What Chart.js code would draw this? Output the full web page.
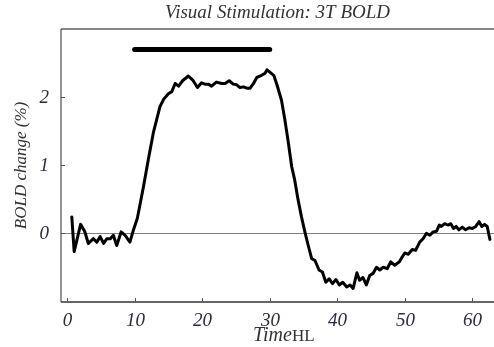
<!DOCTYPE html>
<html>
<head>
<meta charset="utf-8">
<script src="https://cdn.jsdelivr.net/npm/chart.js@4"></script>
<style>
  html, body { margin: 0; padding: 0; background: #fff; }
  #wrap { width: 494px; height: 347px; }
</style>
</head>
<body>
<div id="wrap"><canvas id="boldChart" width="494" height="347"></canvas></div>
<script>
// time (s) and BOLD signal change (%)
const times = [0.7, 1.05, 2.0, 2.6, 3.15, 3.9, 4.4, 4.9, 5.4, 5.9, 6.4, 6.85, 7.35, 8.0, 8.6, 9.3, 9.8,
  10.4, 11.3, 12.0, 12.8, 13.75, 14.3, 15.0, 15.5, 16.0, 16.5, 17.1, 17.95, 18.6, 19.3, 19.9,
  20.4, 20.9, 21.4, 22.1, 22.9, 23.4, 24.0, 24.6, 25.1, 25.6, 26.1, 26.6, 27.1, 27.6, 28.1, 28.8, 29.3, 29.6,
  30.1, 30.6, 31.1, 31.75, 32.25, 32.7, 33.25, 33.7, 34.2, 34.7, 35.2, 35.7, 36.2, 36.7, 37.3, 37.8, 38.3, 38.8, 39.3, 39.8,
  40.3, 40.8, 41.4, 41.9, 42.35, 42.9, 43.3, 43.8, 44.3, 44.8, 45.3, 45.8, 46.3, 46.8, 47.4, 47.9, 48.5, 49.2, 49.6,
  50.0, 50.5, 51.1, 51.6, 52.2, 52.7, 53.2, 53.7, 54.2, 54.7, 55.1, 55.4, 55.9, 56.4, 56.8, 57.2, 57.6, 58.0, 58.5, 59.0, 59.5,
  60.0, 60.5, 61.0, 61.4, 61.8, 62.2, 62.4, 62.6];
const boldChange = [0.24, -0.27, 0.13, 0.03, -0.15, -0.08, -0.13, -0.05, -0.15, -0.08, -0.08, -0.03, -0.18, 0.02, -0.03, -0.13, 0.04,
  0.22, 0.68, 1.07, 1.49, 1.86, 1.97, 2.05, 2.08, 2.2, 2.16, 2.24, 2.31, 2.25, 2.14, 2.21,
  2.19, 2.19, 2.16, 2.22, 2.2, 2.2, 2.24, 2.19, 2.18, 2.14, 2.15, 2.13, 2.13, 2.2, 2.29, 2.32, 2.35, 2.4,
  2.36, 2.32, 2.17, 1.95, 1.66, 1.37, 0.98, 0.78, 0.49, 0.24, 0.02, -0.18, -0.37, -0.4, -0.54, -0.57, -0.72, -0.67, -0.74, -0.68,
  -0.76, -0.72, -0.79, -0.76, -0.81, -0.58, -0.69, -0.65, -0.76, -0.62, -0.59, -0.5, -0.54, -0.5, -0.52, -0.42, -0.47, -0.42, -0.35,
  -0.29, -0.31, -0.24, -0.25, -0.13, -0.08, 0.0, -0.03, 0.02, 0.03, 0.12, 0.1, 0.14, 0.12, 0.14, 0.07, 0.1, 0.05, 0.09, 0.05, 0.08,
  0.07, 0.1, 0.17, 0.1, 0.13, 0.1, 0.0, -0.09];

// stimulus block
const stimTimes = [10, 30];
const stimLevel = 2.7;

const xTicks = [0, 10, 20, 30, 40, 50, 60];
const yTicks = [0, 1, 2];

const titleText = 'Visual Stimulation: 3T BOLD';
const yLabel = 'BOLD change (%)';

const serif = '"Liberation Serif", "Times New Roman", serif';

// axes, ticks and labels drawn by hand so they land like the original
const framePlugin = {
    id: 'frame',
    beforeDatasetsDraw(chart) {
        const { ctx, chartArea: a, scales: { y } } = chart;
        ctx.save();
        // zero line
        ctx.strokeStyle = '#808080';
        ctx.lineWidth = 1.2;
        const y0 = Math.round(y.getPixelForValue(0)) + 0.5;
        ctx.beginPath();
        ctx.moveTo(a.left, y0);
        ctx.lineTo(a.right, y0);
        ctx.stroke();
        ctx.restore();
    },
    afterDraw(chart) {
        const { ctx, chartArea: a, scales: { x, y } } = chart;
        ctx.save();
        // left axis
        ctx.strokeStyle = '#707070';
        ctx.lineWidth = 1.5;
        ctx.beginPath();
        ctx.moveTo(a.left, a.top);
        ctx.lineTo(a.left, a.bottom);
        ctx.stroke();
        // bottom axis
        ctx.strokeStyle = '#333';
        ctx.beginPath();
        ctx.moveTo(a.left, a.bottom);
        ctx.lineTo(a.right, a.bottom);
        ctx.stroke();
        // top frame
        ctx.strokeStyle = '#111';
        ctx.lineWidth = 1.2;
        ctx.beginPath();
        ctx.moveTo(a.left, a.top);
        ctx.lineTo(a.right, a.top);
        ctx.stroke();

        // ticks
        ctx.strokeStyle = '#555';
        ctx.lineWidth = 1;
        ctx.fillStyle = '#2b2b3a';
        ctx.font = 'italic 19px ' + serif;
        ctx.textAlign = 'center';
        ctx.textBaseline = 'middle';
        xTicks.forEach(t => {
            const px = Math.round(x.getPixelForValue(t)) + 0.5;
            ctx.beginPath();
            ctx.moveTo(px, a.bottom);
            ctx.lineTo(px, a.bottom - 4);
            ctx.stroke();
            ctx.fillText(String(t), px, a.bottom + 19);
        });
        ctx.textAlign = 'right';
        yTicks.forEach(t => {
            const py = Math.round(y.getPixelForValue(t)) + 0.5;
            ctx.beginPath();
            ctx.moveTo(a.left, py);
            ctx.lineTo(a.left + 4, py);
            ctx.stroke();
            ctx.fillText(String(t), a.left - 12, py);
        });

        // title
        ctx.fillStyle = '#333';
        ctx.font = 'italic 19px ' + serif;
        ctx.textAlign = 'center';
        ctx.fillText(titleText, (a.left + a.right) / 2, 13);

        // x label (the original's unit glyphs came out garbled)
        ctx.textAlign = 'left';
        ctx.font = 'italic 20px ' + serif;
        ctx.fillText('Time', 253, 336);
        ctx.font = '17px ' + serif;
        ctx.fillText('HL', 292, 337);

        // y label
        ctx.font = 'italic 17px ' + serif;
        ctx.translate(22, (a.top + a.bottom) / 2);
        ctx.rotate(-Math.PI / 2);
        ctx.textAlign = 'center';
        ctx.fillText(yLabel, 0, 0);
        ctx.restore();
    }
};

const ctx = document.getElementById('boldChart').getContext('2d');
new Chart(ctx, {
    type: 'line',
    data: {
        datasets: [{
            label: 'BOLD',
            data: times.map((t, i) => ({ x: t, y: boldChange[i] })),
            borderColor: '#000',
            borderWidth: 3,
            pointRadius: 0,
            tension: 0,
            borderJoinStyle: 'round',
            borderCapStyle: 'round'
        }, {
            label: 'Stimulus',
            data: stimTimes.map(t => ({ x: t, y: stimLevel })),
            borderColor: '#000',
            borderWidth: 5,
            pointRadius: 0,
            borderCapStyle: 'round'
        }]
    },
    options: {
        responsive: false,
        animation: false,
        layout: { padding: { left: 61, top: 29, right: 0, bottom: 45 } },
        plugins: {
            legend: { display: false },
            tooltip: { enabled: false },
            title: { display: false }
        },
        scales: {
            x: { type: 'linear', min: -0.9, max: 63.2, display: false },
            y: { type: 'linear', min: -1.01, max: 3.0, display: false }
        }
    },
    plugins: [framePlugin]
});
</script>
</body>
</html>
